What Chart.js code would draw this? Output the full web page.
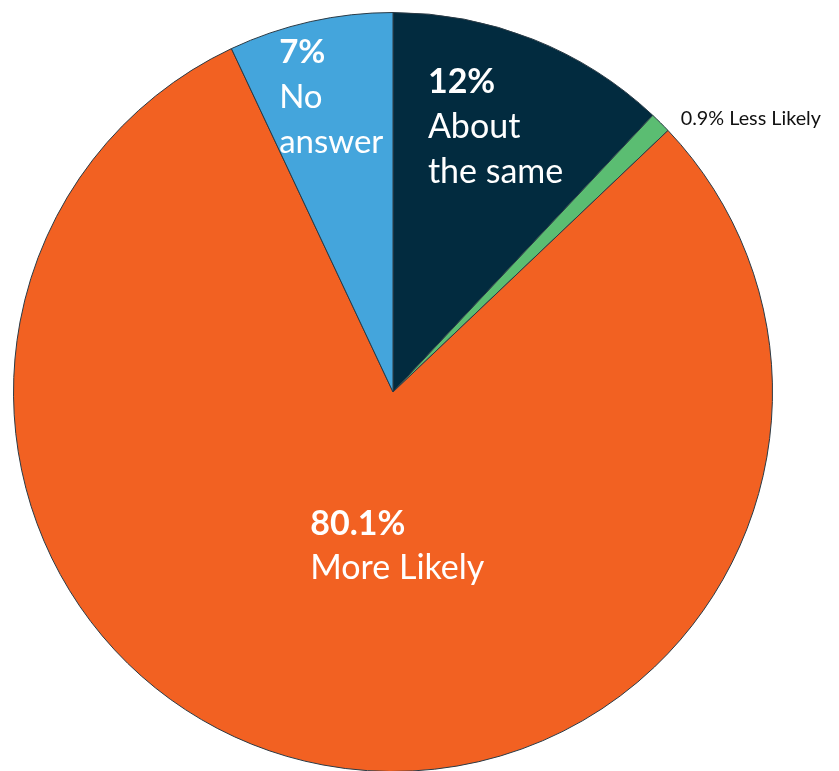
<!DOCTYPE html>
<html>
<head>
<meta charset="utf-8">
<script src="https://cdn.jsdelivr.net/npm/chart.js@4.4.0/dist/chart.umd.min.js"></script>
<style>
  html, body { margin: 0; padding: 0; background: #fff; overflow: hidden; }
  #wrap { position: relative; width: 839px; height: 773px; }
</style>
</head>
<body>
<div id="wrap"><canvas id="myChart"></canvas></div>
<script>
const categories = ['About the same', 'Less Likely', 'More Likely', 'No answer'];
const values = [12, 0.9, 80.1, 7];
const pctLabels = ['12%', '0.9%', '80.1%', '7%'];
const colors = ['#022b3f', '#5bbd72', '#f26122', '#44a5dc'];

// label anchor (fraction of radius from centre), lines, size, colour
const labelSpecs = [
    { dx: 0.092, dy: -0.787, lines: [pctLabels[0], 'About', 'the same'], size: 34, lh: 45, color: '#fff' },
    { dx: 0.758, dy: -0.703, lines: [pctLabels[1] + ' ' + categories[1]], size: 19.8, lh: 0, color: '#111', inline: true },
    { dx: -0.218, dy: 0.376, lines: [pctLabels[2], categories[2]], size: 34, lh: 44, color: '#fff' },
    { dx: -0.300, dy: -0.868, lines: [pctLabels[3], 'No', 'answer'], size: 33, lh: 45, color: '#fff' }
];

const sliceLabels = {
    id: 'sliceLabels',
    afterDraw(chart) {
        const ctx = chart.ctx;
        const arc = chart.getDatasetMeta(0).data[0];
        const cx = arc.x, cy = arc.y, r = arc.outerRadius;
        ctx.save();
        ctx.textBaseline = 'alphabetic';
        ctx.textAlign = 'left';
        labelSpecs.forEach(function(s) {
            const x = cx + s.dx * r;
            let y = cy + s.dy * r;
            ctx.fillStyle = s.color;
            s.lines.forEach(function(line, i) {
                ctx.font = (i === 0 && !s.inline ? 'bold ' : '') + s.size + 'px Lato';
                ctx.fillText(line, x, y);
                y += s.lh;
            });
        });
        ctx.restore();
    }
};

const ctx = document.getElementById('myChart').getContext('2d');
new Chart(ctx, {
    type: 'pie',
    data: {
        labels: categories,
        datasets: [{
            data: values,
            backgroundColor: colors,
            borderColor: '#2a3a45',
            borderWidth: 1
        }]
    },
    options: {
        responsive: true,
        maintainAspectRatio: false,
        animation: false,
        layout: { padding: { left: 13, right: 66, top: 12, bottom: 1 } },
        plugins: {
            legend: { display: false },
            tooltip: { enabled: false }
        }
    },
    plugins: [sliceLabels]
});
</script>
</body>
</html>
